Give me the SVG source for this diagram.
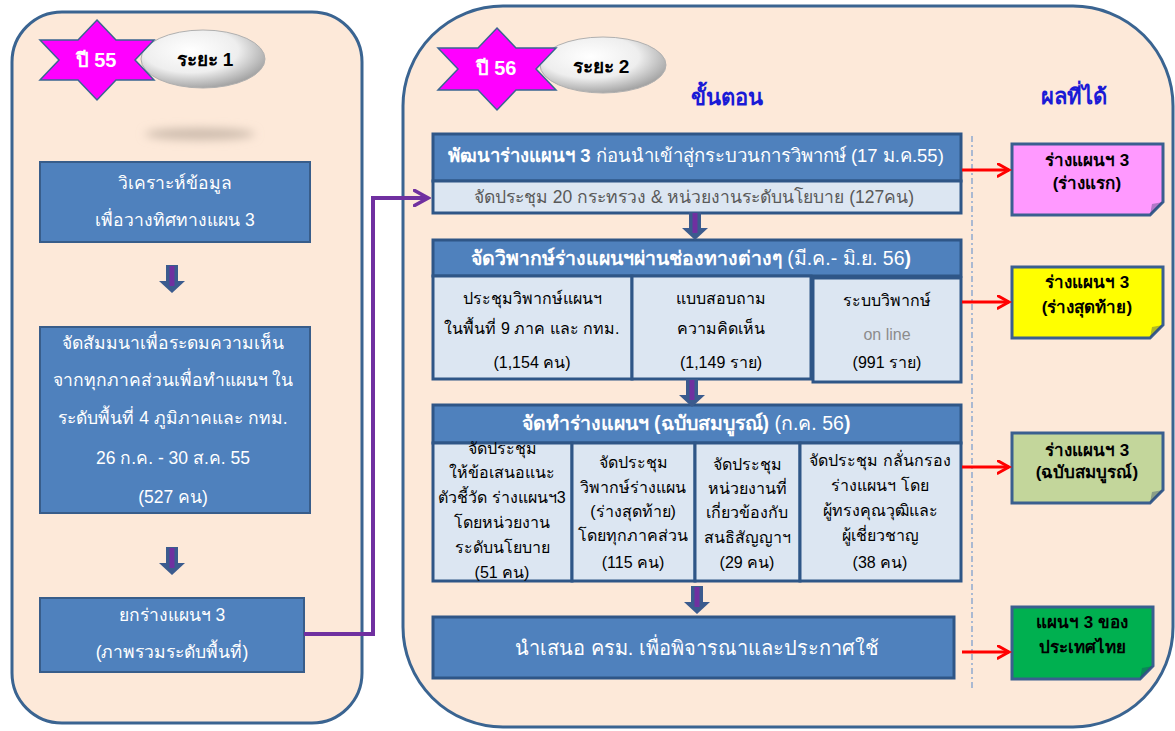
<svg xmlns="http://www.w3.org/2000/svg" width="1175" height="731" viewBox="0 0 1175 731">
<defs>
<radialGradient id="ell" cx="0.4" cy="0.35" r="0.7">
<stop offset="0" stop-color="#ffffff"/>
<stop offset="0.55" stop-color="#eeeeee"/>
<stop offset="1" stop-color="#9a9a9a"/>
</radialGradient>
<filter id="blur" x="-50%" y="-200%" width="200%" height="500%"><feGaussianBlur stdDeviation="5"/></filter>
<marker id="red" viewBox="0 0 12 12" refX="10" refY="6" markerWidth="5" markerHeight="5" orient="auto" markerUnits="strokeWidth">
<path d="M1,1 L10,6 L1,11" fill="none" stroke="#ff0000" stroke-width="2.4" stroke-linecap="round"/>
</marker>
<marker id="pur" viewBox="0 0 12 12" refX="10" refY="6" markerWidth="4.5" markerHeight="4.5" orient="auto" markerUnits="strokeWidth">
<path d="M1,1 L10,6 L1,11" fill="none" stroke="#7030a0" stroke-width="2.4" stroke-linecap="round"/>
</marker>
<g id="darr">
<path d="M-6,0 h12 v16 h7 l-13,12 l-13,-12 h7 z" fill="#3b5b8e"/>
<rect x="-2.5" y="1" width="5" height="20" fill="#7030a0"/>
</g>
</defs>
<style>
.panel{fill:#fde9d9;stroke:#3a6491;stroke-width:3}
.box{fill:#4f81bd;stroke:#385d8a;stroke-width:2}
.hbox{fill:#4f81bd;stroke:#2f5687;stroke-width:3}
.cell{fill:#dce6f2;stroke:#2f5687;stroke-width:3}
.res{stroke:#3a5f8f;stroke-width:3}
.fold{fill-opacity:0.35;fill:#1f3864}
text{font-family:"Liberation Sans","Noto Sans",sans-serif;text-anchor:middle;dominant-baseline:central}
.w{fill:#ffffff;font-size:17.5px}
.wb{fill:#ffffff;font-size:19.5px}
.b{fill:#000000;font-size:16px}
.bs{fill:#000000;font-size:16px}
.rb{fill:#000000;font-size:17px;font-weight:bold}
.g{fill:#595959;font-size:17.5px}
.star{fill:#ff00ff;stroke:#3a6491;stroke-width:1.5}
.startxt{fill:#ffffff;font-size:20px;font-weight:bold}
.etxt{fill:#000000;font-size:19px;font-weight:bold}
.head{fill:#1a1ad6;font-size:22px;font-weight:bold}
</style>
<rect width="1175" height="731" fill="#ffffff"/>

<g id="panel-left">
<rect class="panel" x="12" y="12" width="350" height="711" rx="50"/>
<ellipse cx="200" cy="134" rx="55" ry="6" fill="#cdbcad" filter="url(#blur)"/>
</g>
<g id="panel-right">
<rect class="panel" x="403" y="6" width="770" height="721" rx="100"/>
<line x1="972" y1="136" x2="972" y2="690" stroke="#8ea9cf" stroke-width="1.5" stroke-dasharray="6,3,2,3"/>
</g>

<g id="badge-55">
<ellipse cx="203" cy="59" rx="62" ry="29" fill="url(#ell)" stroke="#b0b0b0" stroke-width="1"/>
<text class="etxt" x="205" y="59">ระยะ 1</text>
<polygon class="star" points="97,20 116,40 154,40 135,60 154,80 116,80 97,100 78,80 40,80 59,60 40,40 78,40"/>
<text class="startxt" x="96" y="60">ปี 55</text>
</g>
<g id="badge-56">
<ellipse cx="603" cy="65" rx="63" ry="28" fill="url(#ell)" stroke="#b0b0b0" stroke-width="1"/>
<text class="etxt" x="601" y="66">ระยะ 2</text>
<polygon class="star" points="497,28 516,48 556,48 536,69 556,90 516,90 497,110 478,90 438,90 458,69 438,48 478,48"/>
<text class="startxt" x="496" y="68">ปี 56</text>
</g>
<text class="head" x="727" y="97">ขั้นตอน</text>
<text class="head" x="1074" y="96">ผลที่ได้</text>

<g id="node-l1">
<rect class="box" x="40" y="162" width="270" height="80"/>
<text class="w" x="175" y="183">วิเคราะห์ข้อมูล</text>
<text class="w" x="175" y="220">เพื่อวางทิศทางแผน 3</text>
</g>
<g id="node-l2">
<rect class="box" x="40" y="327" width="270" height="186"/>
<text class="w" x="173" y="343">จัดสัมมนาเพื่อระดมความเห็น</text>
<text class="w" x="173" y="380">จากทุกภาคส่วนเพื่อทำแผนฯ ใน</text>
<text class="w" x="173" y="418">ระดับพื้นที่ 4 ภูมิภาคและ กทม.</text>
<text class="w" x="173" y="458">26 ก.ค. - 30 ส.ค. 55</text>
<text class="w" x="173" y="497">(527 คน)</text>
</g>
<g id="node-l3">
<rect class="box" x="40" y="598" width="264" height="74"/>
<text class="w" x="172" y="615">ยกร่างแผนฯ 3</text>
<text class="w" x="172" y="652">(ภาพรวมระดับพื้นที่)</text>
</g>

<g id="node-a">
<rect class="hbox" x="433" y="134" width="528" height="47"/>
<rect class="cell" x="433" y="181" width="528" height="32"/>
<text class="w" x="696" y="155" style="font-size:18.5px"><tspan font-weight="bold">พัฒนาร่างแผนฯ 3</tspan> ก่อนนำเข้าสู่กระบวนการวิพากษ์ (17 ม.ค.55)</text>
<text class="g" x="694" y="197">จัดประชุม 20 กระทรวง &amp; หน่วยงานระดับนโยบาย (127คน)</text>
</g>

<g id="node-b">
<rect class="hbox" x="433" y="240" width="528" height="36"/>
<text class="wb" x="691" y="258"><tspan font-weight="bold">จัดวิพากษ์ร่างแผนฯผ่านช่องทางต่างๆ</tspan> (มี.ค.- มิ.ย. 56<tspan font-weight="bold">)</tspan></text>
<rect class="cell" x="433" y="276" width="199" height="103"/>
<rect class="cell" x="632" y="276" width="179" height="103"/>
<rect class="cell" x="813" y="278" width="148" height="104"/>
<text class="b" x="532" y="298">ประชุมวิพากษ์แผนฯ</text>
<text class="b" x="532" y="328">ในพื้นที่ 9 ภาค และ กทม.</text>
<text class="b" x="532" y="362">(1,154 คน)</text>
<text class="b" x="721" y="298">แบบสอบถาม</text>
<text class="b" x="721" y="328">ความคิดเห็น</text>
<text class="b" x="721" y="362">(1,149 ราย)</text>
<text class="b" x="887" y="300">ระบบวิพากษ์</text>
<text class="b" x="887" y="334" style="fill:#8c8c8c">on line</text>
<text class="b" x="887" y="362">(991 ราย)</text>
</g>

<g id="node-c">
<rect class="hbox" x="433" y="405" width="528" height="38"/>
<text class="wb" x="686" y="423"><tspan font-weight="bold">จัดทำร่างแผนฯ  (ฉบับสมบูรณ์)</tspan> (ก.ค. 56<tspan font-weight="bold">)</tspan></text>
<rect class="cell" x="433" y="443" width="139" height="138"/>
<rect class="cell" x="572" y="443" width="123" height="138"/>
<rect class="cell" x="695" y="443" width="105" height="138"/>
<rect class="cell" x="800" y="443" width="161" height="138"/>
<text class="bs" x="502" y="448">จัดประชุม</text>
<text class="bs" x="502" y="472">ให้ข้อเสนอแนะ</text>
<text class="bs" x="502" y="497">ตัวชี้วัด ร่างแผนฯ3</text>
<text class="bs" x="502" y="522">โดยหน่วยงาน</text>
<text class="bs" x="502" y="547">ระดับนโยบาย</text>
<text class="bs" x="502" y="572">(51 คน)</text>
<text class="bs" x="633" y="462">จัดประชุม</text>
<text class="bs" x="633" y="487">วิพากษ์ร่างแผน</text>
<text class="bs" x="633" y="511">(ร่างสุดท้าย)</text>
<text class="bs" x="633" y="535">โดยทุกภาคส่วน</text>
<text class="bs" x="633" y="562">(115 คน)</text>
<text class="bs" x="747" y="464">จัดประชุม</text>
<text class="bs" x="747" y="488">หน่วยงานที่</text>
<text class="bs" x="747" y="512">เกี่ยวข้องกับ</text>
<text class="bs" x="747" y="537">สนธิสัญญาฯ</text>
<text class="bs" x="747" y="562">(29  คน)</text>
<text class="bs" x="880" y="460">จัดประชุม กลั่นกรอง</text>
<text class="bs" x="880" y="485">ร่างแผนฯ โดย</text>
<text class="bs" x="880" y="510">ผู้ทรงคุณวุฒิและ</text>
<text class="bs" x="880" y="535">ผู้เชี่ยวชาญ</text>
<text class="bs" x="880" y="562">(38 คน)</text>
</g>

<g id="node-d">
<rect class="hbox" x="433" y="617" width="521" height="61"/>
<text class="w" x="697" y="648" style="font-size:20px">นำเสนอ ครม. เพื่อพิจารณาและประกาศใช้</text>
</g>

<g id="result-1">
<path class="res" d="M1012,144 H1163 V202 L1150,215 H1012 Z" fill="#ff99ff"/>
<path class="fold" d="M1163,202 L1150,215 L1152,204 Z"/>
<text class="rb" x="1087" y="160">ร่างแผนฯ 3</text>
<text class="rb" x="1087" y="183">(ร่างแรก)</text>
</g>
<g id="result-2">
<path class="res" d="M1012,267 H1163 V325 L1150,338 H1012 Z" fill="#ffff00"/>
<path class="fold" d="M1163,325 L1150,338 L1152,327 Z"/>
<text class="rb" x="1087" y="282">ร่างแผนฯ 3</text>
<text class="rb" x="1087" y="307">(ร่างสุดท้าย)</text>
</g>
<g id="result-3">
<path class="res" d="M1012,433 H1163 V490 L1150,503 H1012 Z" fill="#c3d69b"/>
<path class="fold" d="M1163,490 L1150,503 L1152,492 Z"/>
<text class="rb" x="1087" y="450">ร่างแผนฯ 3</text>
<text class="rb" x="1087" y="472">(ฉบับสมบูรณ์)</text>
</g>
<g id="result-4">
<path class="res" d="M1012,607 H1153 V666 L1140,679 H1012 Z" fill="#00b050"/>
<path class="fold" d="M1153,666 L1140,679 L1142,668 Z"/>
<text class="rb" x="1082" y="622">แผนฯ 3 ของ</text>
<text class="rb" x="1082" y="647">ประเทศไทย</text>
</g>

<g id="connectors">
<use href="#darr" x="172" y="265"/>
<use href="#darr" x="172" y="547"/>
<use href="#darr" x="695" y="212"/>
<use href="#darr" x="692" y="379"/>
<use href="#darr" x="697" y="586"/>
<polyline points="304,634 373,634 373,198 428,198" fill="none" stroke="#7030a0" stroke-width="4" marker-end="url(#pur)"/>
<line x1="962" y1="170" x2="1009" y2="170" stroke="#ff0000" stroke-width="3" marker-end="url(#red)"/>
<line x1="962" y1="302" x2="1009" y2="302" stroke="#ff0000" stroke-width="3" marker-end="url(#red)"/>
<line x1="962" y1="467" x2="1009" y2="467" stroke="#ff0000" stroke-width="3" marker-end="url(#red)"/>
<line x1="962" y1="652" x2="1009" y2="652" stroke="#ff0000" stroke-width="3" marker-end="url(#red)"/>
</g>
</svg>
